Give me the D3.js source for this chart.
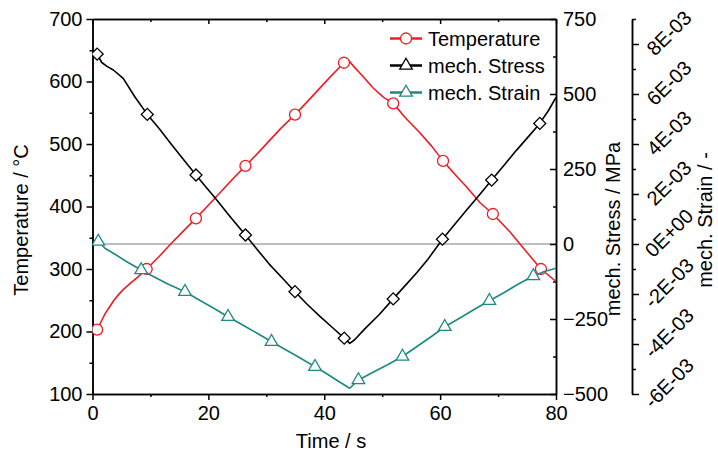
<!DOCTYPE html>
<html>
<head>
<meta charset="utf-8">
<script src="https://cdn.jsdelivr.net/npm/d3@7"></script>
<style>
body { margin: 0; background: #fff; }
svg { display: block; }
</style>
</head>
<body>
<div id="chart"></div>
<script>
// time [s], value pairs
var temperature = [[0.8,203],[1.5,216],[2.2,229],[3,240],[3.7,250],[4.5,259],[5.3,267],[6.5,277],[7.8,287],
	[9.35,300],[11.5,320],[13.5,340],[15.5,359],[17.85,381],[20,402],[22,422],[24,442],[26.4,465],[28.5,485],
	[30.5,505],[32.5,525],[34.95,547],[37,567],[39,587],[41,607],[43.4,630],[44.2,634],[45,625],[46.7,608],
	[48.4,590],[50.2,575],[51.9,565],[54,542],[56.5,518],[58.5,497],[60.5,473],[62.5,452],[64.5,432],
	[66.9,406],[69.1,388],[72,360],[74.5,332],[77.4,300],[78.7,290],[80,280]];
var tempMarks = [0, 9, 13, 17, 21, 25, 31, 35, 39, 42];

var stress = [[0.8,633],[1.6,605],[2.5,592],[3.6,580],[5.3,552],[7.3,491],[9.46,432],[11.5,385],[13.5,335],
	[15.7,282],[17.86,230],[19.5,192],[21.1,155],[23.8,90],[26.4,30],[28.5,-20],[30.5,-67],[32.8,-114],
	[34.95,-159],[37,-200],[39.3,-242],[41.5,-280],[43.45,-314],[44.4,-331],[45.2,-320],[47,-283],[49.5,-235],
	[51.9,-183],[54,-138],[56,-95],[58,-48],[60.4,16],[62.5,65],[64.5,112],[66.7,162],[68.9,213],[71,262],
	[73.2,313],[75.2,357],[77.2,402],[78.7,445],[80,489]];
var stressMarks = [0, 6, 10, 14, 18, 22, 27, 31, 35, 39];

// strain in units of 1E-03
var strain = [[1.0,0.1],[2.2,-0.18],[3.6,-0.37],[6,-0.72],[8.4,-1.04],[10.5,-1.3],[13,-1.6],[15.96,-1.91],
	[18.5,-2.25],[21,-2.58],[23.4,-2.91],[26,-3.25],[28.5,-3.58],[30.9,-3.91],[33.5,-4.25],[36,-4.58],
	[38.4,-4.91],[40.5,-5.2],[42.5,-5.5],[44.4,-5.77],[45.9,-5.44],[48.5,-5.12],[51,-4.82],[53.5,-4.5],
	[56,-4.1],[58.5,-3.7],[60.8,-3.31],[63.5,-2.95],[66,-2.6],[68.5,-2.27],[71,-1.95],[73.5,-1.6],
	[76.1,-1.28],[78,-1.1],[80,-0.97]];
var strainMarks = [0, 4, 7, 10, 13, 16, 20, 23, 26, 29, 32];

var timeTicks = [0, 20, 40, 60, 80];
var timeMinor = [10, 30, 50, 70];
var tempTicks = [100, 200, 300, 400, 500, 600, 700];
var tempMinor = [150, 250, 350, 450, 550, 650];
var stressTicks = [-500, -250, 0, 250, 500, 750];
var stressMinor = [-375, -125, 125, 375, 625];
var strainTicks = [-6, -4, -2, 0, 2, 4, 6, 8];
var strainMinor = [-5, -3, -1, 1, 3, 5, 7, 9];
var strainTickLabels = ["-6E-03", "-4E-03", "-2E-03", "0E+00", "2E-03", "4E-03", "6E-03", "8E-03"];

var legendNames = ["Temperature", "mech. Stress", "mech. Strain"];

var red = "#ee1c24", teal = "#1b8a81", black = "#000";
var font = '"Liberation Sans", Arial, sans-serif';

var m = { l: 92.5, r: 556, t: 19, b: 394 };

var svg = d3.select("#chart").append("svg").attr("width", 718).attr("height", 454)
		.attr("font-family", font);

var x = d3.scaleLinear().domain([0, 80]).range([m.l, m.r]);
var yT = d3.scaleLinear().domain([100, 700]).range([m.b, m.t]);
var yS = d3.scaleLinear().domain([-500, 750]).range([m.b, m.t]);
var yE = d3.scaleLinear().domain([-6, 9]).range([m.b, m.t]);

function styleAxis(g) {
	g.attr("font-size", 20).attr("font-family", font);
	g.selectAll("path, line").attr("stroke", "#000").attr("stroke-width", 1.5);
	g.selectAll("text").attr("fill", "#000");
}

// zero line for stress
svg.append("line").attr("x1", m.l).attr("x2", m.r).attr("y1", yS(0)).attr("y2", yS(0))
		.attr("stroke", "#a8a8a8").attr("stroke-width", 1.5);

// axes
svg.append("g").attr("transform", "translate(" + m.l + ",0)")
		.call(d3.axisLeft(yT).tickValues(tempTicks).tickSize(6).tickSizeOuter(0).tickPadding(4)).call(styleAxis);
svg.append("g").attr("transform", "translate(" + m.l + ",0)")
		.call(d3.axisLeft(yT).tickValues(tempMinor).tickSize(3).tickSizeOuter(0).tickFormat("")).call(styleAxis);

svg.append("g").attr("transform", "translate(0," + m.b + ")")
		.call(d3.axisBottom(x).tickValues(timeTicks).tickSize(6).tickSizeOuter(0).tickPadding(6)).call(styleAxis);
svg.append("g").attr("transform", "translate(0," + m.b + ")")
		.call(d3.axisBottom(x).tickValues(timeMinor).tickSize(3).tickSizeOuter(0).tickFormat("")).call(styleAxis);

svg.append("g").attr("transform", "translate(0," + m.t + ")")
		.call(d3.axisTop(x).tickValues(timeTicks).tickSize(-5).tickSizeOuter(0).tickFormat("")).call(styleAxis);
svg.append("g").attr("transform", "translate(0," + m.t + ")")
		.call(d3.axisTop(x).tickValues(timeMinor).tickSize(-3).tickSizeOuter(0).tickFormat("")).call(styleAxis);

svg.append("g").attr("transform", "translate(" + m.r + ",0)")
		.call(d3.axisRight(yS).tickValues(stressTicks).tickSize(-6).tickSizeOuter(0).tickPadding(7)).call(styleAxis);
svg.append("g").attr("transform", "translate(" + m.r + ",0)")
		.call(d3.axisRight(yS).tickValues(stressMinor).tickSize(-3).tickSizeOuter(0).tickFormat("")).call(styleAxis);

var strainX = 632;
svg.append("g").attr("transform", "translate(" + strainX + ",0)")
		.call(d3.axisRight(yE).tickValues(strainTicks).tickSize(7).tickSizeOuter(0).tickFormat("")).call(styleAxis);
svg.append("g").attr("transform", "translate(" + strainX + ",0)")
		.call(d3.axisRight(yE).tickValues(strainMinor).tickSize(4).tickSizeOuter(0).tickFormat("")).call(styleAxis);
svg.append("g").selectAll("text").data(strainTicks).enter().append("text")
		.attr("transform", function(d) {
			return "translate(" + (strainX + 37) + "," + (yE(d) - 11) + ") rotate(-45)";
		})
		.attr("text-anchor", "middle").attr("dy", "0.35em").attr("font-size", 20)
		.text(function(d, i) { return strainTickLabels[i]; });

// axis titles
svg.append("text").attr("x", 331).attr("y", 448).attr("text-anchor", "middle")
		.attr("font-size", 20).text("Time / s");
svg.append("text").attr("transform", "translate(28,220) rotate(-90)").attr("text-anchor", "middle")
		.attr("font-size", 20).text("Temperature / \u00B0C");
svg.append("text").attr("transform", "translate(620,229) rotate(-90)").attr("text-anchor", "middle")
		.attr("font-size", 20).text("mech. Stress / MPa");
svg.append("text").attr("transform", "translate(712,220) rotate(-90)").attr("text-anchor", "middle")
		.attr("font-size", 20).text("mech. Strain / -");

// series
svg.append("clipPath").attr("id", "plot").append("rect")
		.attr("x", m.l).attr("y", m.t).attr("width", m.r - m.l).attr("height", m.b - m.t);
var plot = svg.append("g").attr("clip-path", "url(#plot)");

var diamond = d3.symbol().type(d3.symbolSquare).size(72);
var triangle = d3.symbol().type(d3.symbolTriangle).size(68);

function drawSeries(data, marks, yScale, color, shape) {
	var line = d3.line().x(function(d) { return x(d[0]); }).y(function(d) { return yScale(d[1]); });
	plot.append("path").datum(data).attr("d", line).attr("fill", "none")
			.attr("stroke", color).attr("stroke-width", 1.6).attr("stroke-linejoin", "round");
	var pts = marks.map(function(i) { return data[i]; });
	var g = plot.append("g");
	if (shape === "circle") {
		g.selectAll("circle").data(pts).enter().append("circle")
				.attr("cx", function(d) { return x(d[0]); })
				.attr("cy", function(d) { return yScale(d[1]); })
				.attr("r", 5.5).attr("fill", "#fff").attr("stroke", color).attr("stroke-width", 1.3);
	} else {
		g.selectAll("path").data(pts).enter().append("path")
				.attr("d", shape === "diamond" ? diamond : triangle)
				.attr("transform", function(d) {
					return "translate(" + x(d[0]) + "," + yScale(d[1]) + ")" + (shape === "diamond" ? " rotate(45)" : "");
				})
				.attr("fill", "#fff").attr("stroke", color).attr("stroke-width", 1.3);
	}
}

drawSeries(temperature, tempMarks, yT, red, "circle");
drawSeries(stress, stressMarks, yS, black, "diamond");
drawSeries(strain, strainMarks, yE, teal, "triangle");

// legend
var legendColors = [red, black, teal];
var legendShapes = ["circle", "triangle", "triangle"];
var legendY = [38.5, 65.5, 92.5];
var lg = svg.append("g");
legendNames.forEach(function(name, i) {
	var y = legendY[i];
	lg.append("line").attr("x1", 390).attr("x2", 422).attr("y1", y).attr("y2", y)
			.attr("stroke", legendColors[i]).attr("stroke-width", 2.5);
	if (legendShapes[i] === "circle") {
		lg.append("circle").attr("cx", 406).attr("cy", y).attr("r", 5.5)
				.attr("fill", "#fff").attr("stroke", legendColors[i]).attr("stroke-width", 1.3);
	} else {
		lg.append("path").attr("d", triangle).attr("transform", "translate(406," + y + ")")
				.attr("fill", "#fff").attr("stroke", legendColors[i]).attr("stroke-width", 1.3);
	}
	lg.append("text").attr("x", 428).attr("y", y).attr("dy", "0.35em").attr("font-size", 20).text(name);
});
</script>
</body>
</html>
